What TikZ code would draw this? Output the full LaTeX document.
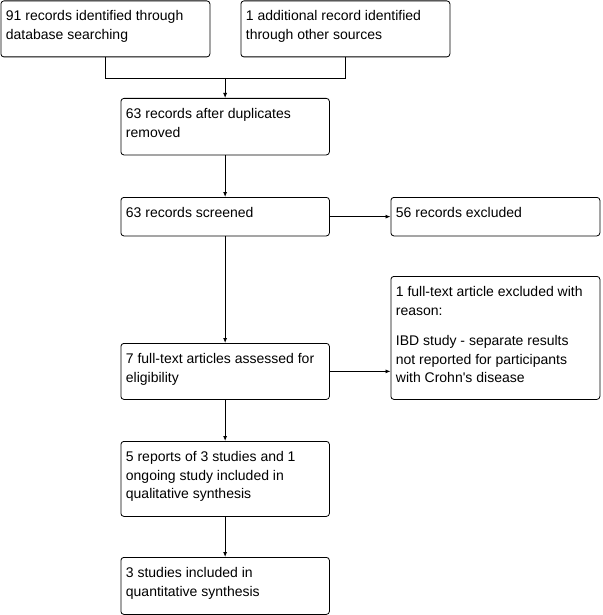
\documentclass[tikz,border=0pt]{standalone}
\usepackage{fontspec}
\setmainfont{Liberation Sans}
\usetikzlibrary{arrows.meta}
\newcommand{\bx}[3]{\parbox[t][#2pt][t]{#1pt}{\fontsize{14}{18.6}\selectfont\rule{0pt}{20pt}#3}}
\tikzset{
  box/.style={draw=black, line width=0.8pt, rounded corners=3pt, anchor=north west,
    inner xsep=5pt, inner ysep=0pt, align=left},
  conn/.style={draw=black, line width=0.8pt},
  arr/.style={conn, -{Latex[length=5pt,width=4pt]}}
}
\begin{document}
\begin{tikzpicture}[x=1pt,y=-1pt]
\useasboundingbox (0,0) rectangle (602,615);
\node[box] (b1) at (0.5,0.5) {\bx{199}{56}{91 records identified through\\database searching}};
\node[box] (b2) at (240.5,0.5) {\bx{199}{56}{1 additional record identified\\through other sources}};
\node[box] (b3) at (120.5,98) {\bx{198.5}{56.5}{63 records after duplicates\\removed}};
\node[box] (b4) at (120.5,197) {\bx{198.5}{38.5}{63 records screened}};
\node[box] (b5) at (390.5,197) {\bx{199}{38.5}{56 records excluded}};
\node[box] (b6) at (390.5,276) {\bx{199}{123}{1 full-text article excluded with\\reason:\\[12pt]IBD study - separate results\\not reported for participants\\with Crohn\textquotesingle s disease}};
\node[box] (b7) at (120.5,343) {\bx{198.5}{56}{7 full-text articles assessed for\\eligibility}};
\node[box] (b8) at (120.5,441) {\bx{198.5}{75}{5 reports of 3 studies and 1\\ongoing study included in\\qualitative synthesis}};
\node[box] (b9) at (120.5,557) {\bx{198.5}{57}{3 studies included in\\quantitative synthesis}};
\coordinate (j) at (b3.north |- 0,78);
\draw[conn] (b1.south) |- (j);
\draw[conn] (b2.south) |- (j);
\draw[arr] (j) -- (b3.north);
\draw[arr] (b3) -- (b4);
\draw[arr] (b4) -- (b5);
\draw[arr] (b4) -- (b7);
\draw[arr] (b7.east) -- (b7.east -| b6.west);
\draw[arr] (b7) -- (b8);
\draw[arr] (b8) -- (b9);
\end{tikzpicture}
\end{document}
